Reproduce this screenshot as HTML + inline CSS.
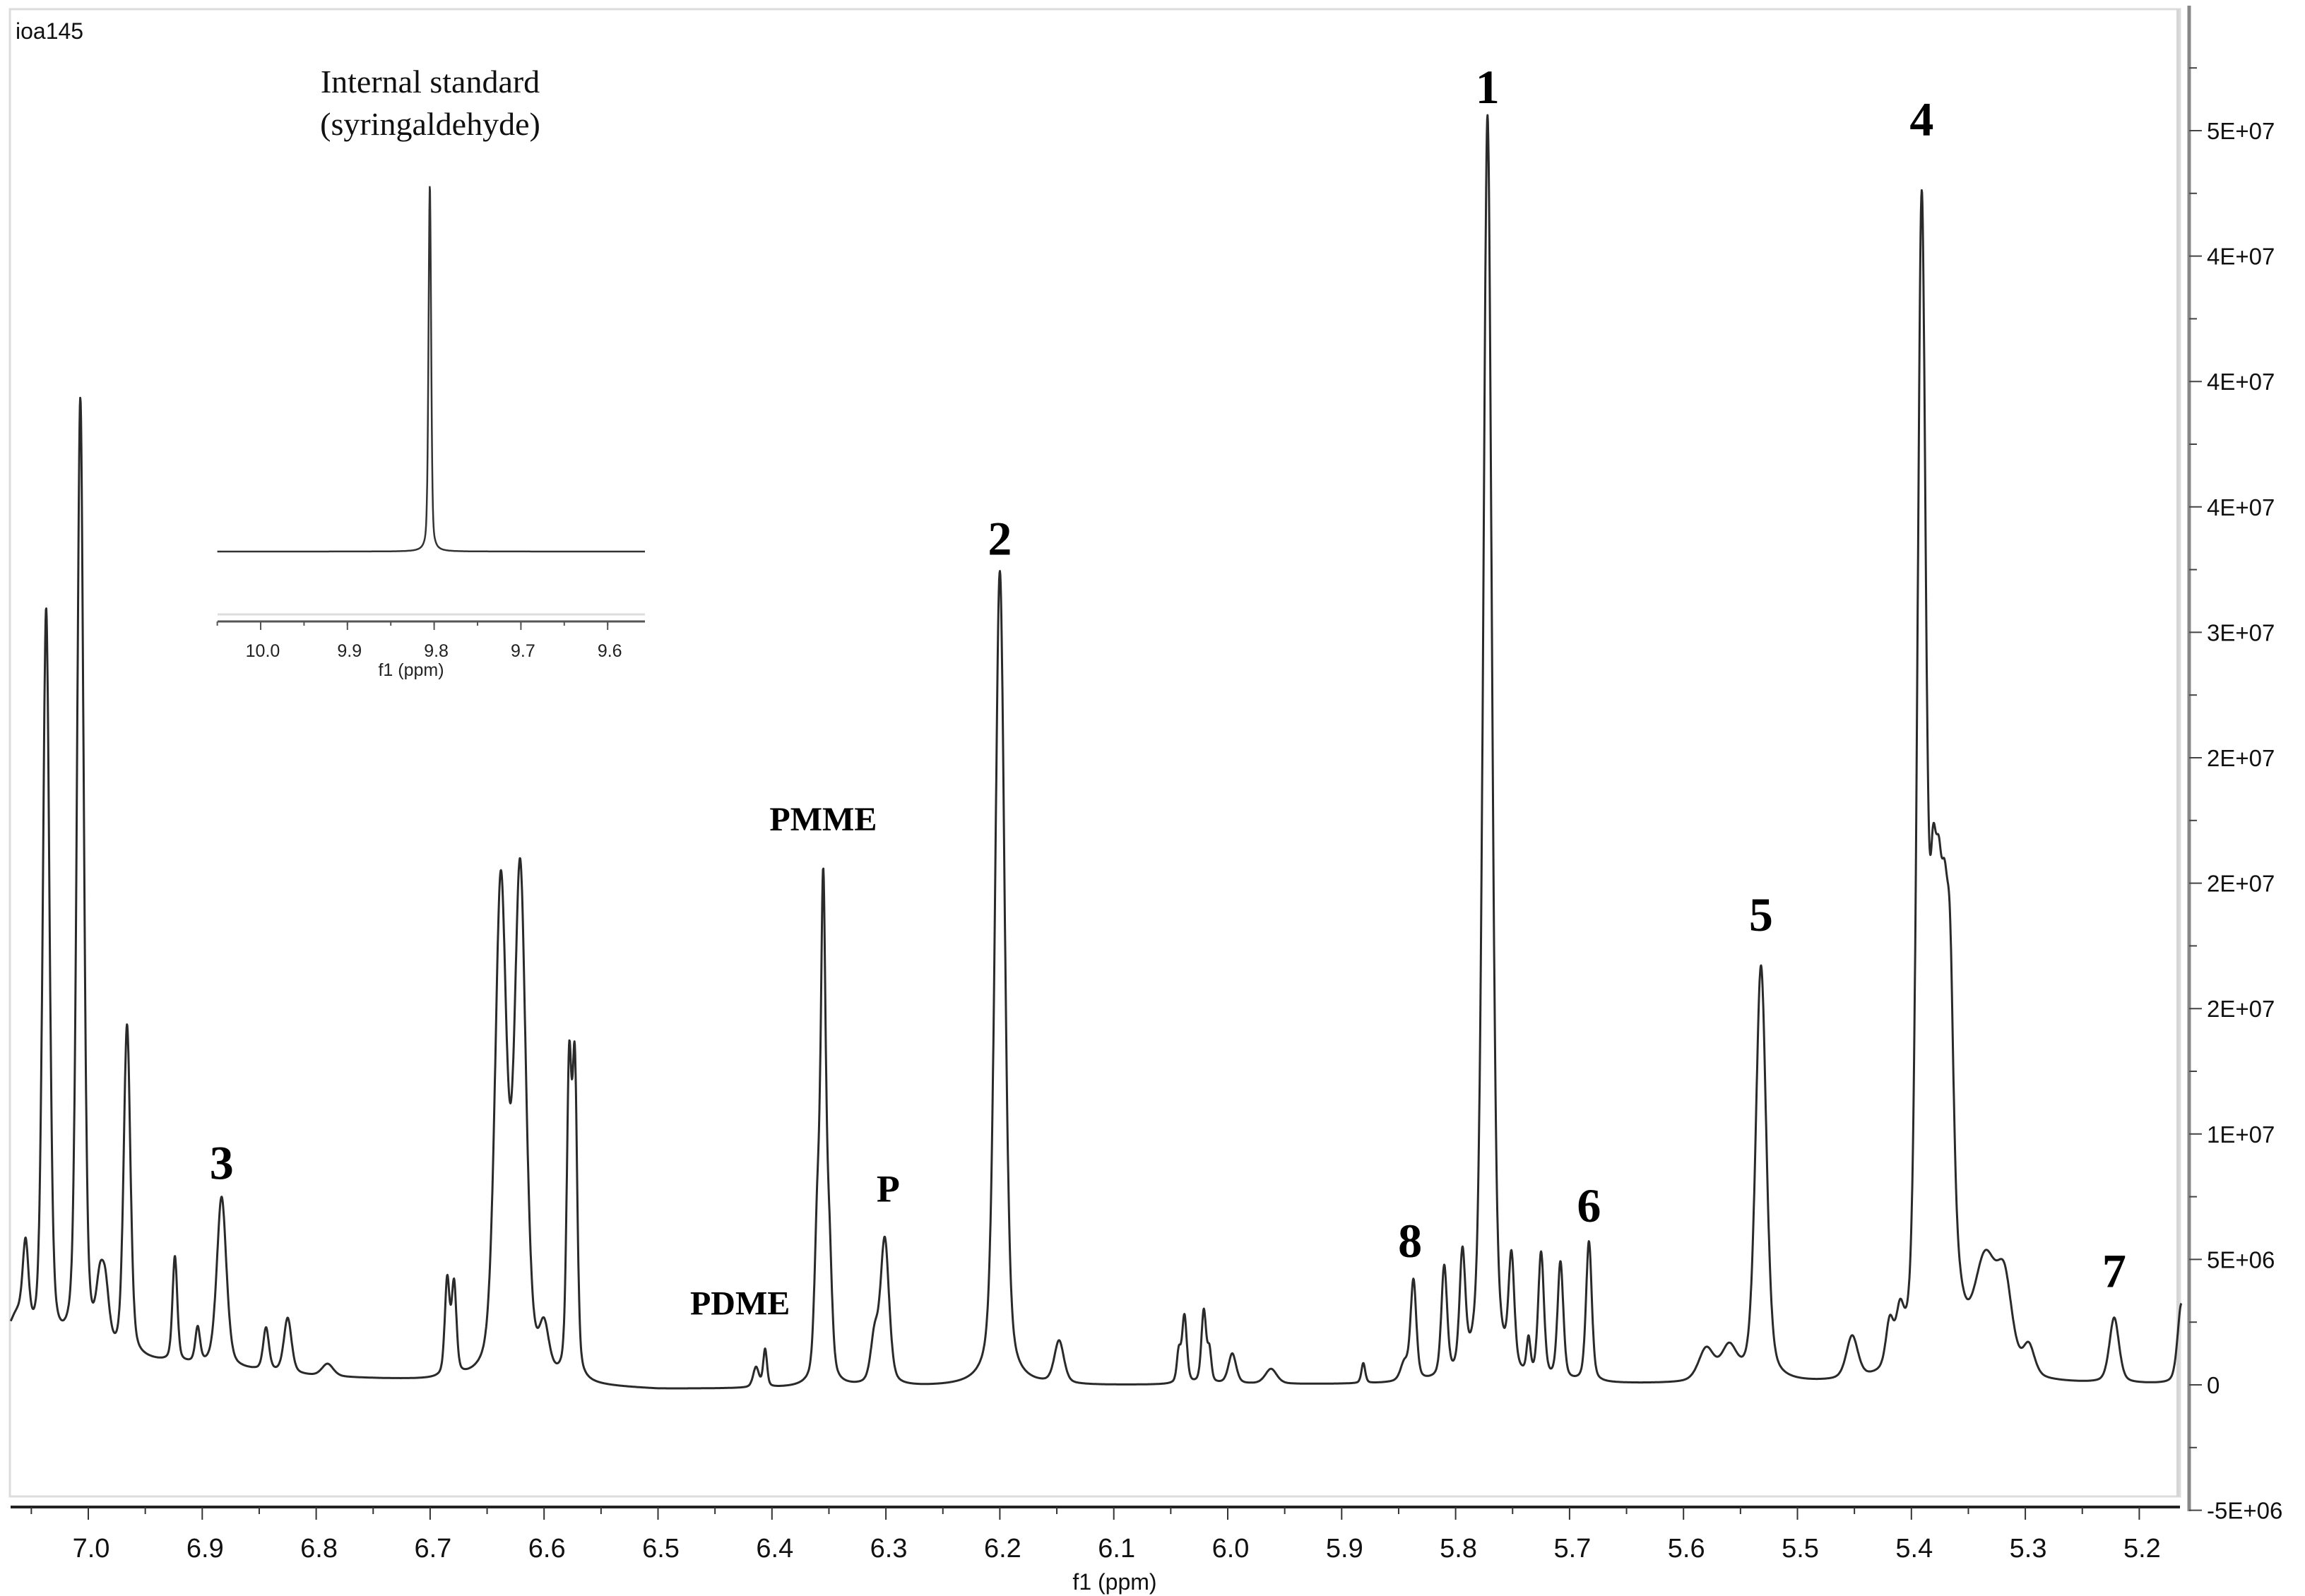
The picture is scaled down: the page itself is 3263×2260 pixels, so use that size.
<!DOCTYPE html>
<html><head><meta charset="utf-8"><style>
html,body{margin:0;padding:0;background:#fff}
svg{display:block}
</style></head><body>
<svg id="chart" width="3263" height="2260" viewBox="0 0 3263 2260" xmlns="http://www.w3.org/2000/svg">
<rect x="0" y="0" width="3263" height="2260" fill="#fff"/>
<rect x="14" y="13" width="3072" height="2106" fill="none" stroke="#dcdcdc" stroke-width="3"/>
<line x1="3083" y1="13" x2="3083" y2="2119" stroke="#d6d6d6" stroke-width="4"/>
<text x="22" y="55" font-family="Liberation Sans, sans-serif" font-size="32" fill="#111">ioa145</text>
<g id="inset"></g>
<g id="mainplot"></g>
<g id="xaxis"></g>
<g id="yaxis"></g>
<g id="labels"></g>
</svg>
<script>
// ---- main spectrum data (ppm, height in units of 1E7, half-width ppm) ----
const peakPpm = [7.062,7.055,7.037,7.007,6.990,6.985,6.966,6.924,6.904,6.883,6.844,6.825,6.790,6.685,6.679,6.638,6.621,6.600,6.578,6.573,6.414,6.406,6.360,6.355,6.350,6.310,6.301,6.200,6.148,6.043,6.038,6.021,6.016,5.996,5.962,5.881,5.845,5.837,5.810,5.794,5.772,5.751,5.736,5.725,5.708,5.683,5.580,5.560,5.532,5.452,5.419,5.410,5.391,5.381,5.376,5.371,5.366,5.372,5.335,5.318,5.297,5.222,5.163];
const peakHeight = [0.14,0.32,2.95,3.80,0.22,0.22,1.32,0.42,0.14,0.68,0.17,0.22,0.05,0.38,0.36,1.95,2.00,0.18,1.20,1.20,0.08,0.15,0.62,1.85,0.52,0.18,0.58,3.25,0.17,0.12,0.27,0.29,0.12,0.12,0.06,0.08,0.07,0.40,0.44,0.46,5.05,0.44,0.14,0.50,0.47,0.56,0.13,0.13,1.66,0.17,0.18,0.18,4.50,1.05,0.80,0.72,0.90,0.75,0.45,0.32,0.12,0.26,0.32];
const peakWidth = [0.010,0.003,0.0035,0.0035,0.004,0.004,0.0035,0.0025,0.0025,0.005,0.003,0.004,0.006,0.0025,0.0025,0.006,0.006,0.005,0.0025,0.0025,0.003,0.002,0.003,0.0025,0.003,0.004,0.0045,0.005,0.005,0.002,0.0025,0.0025,0.002,0.004,0.006,0.002,0.004,0.003,0.003,0.003,0.0045,0.003,0.002,0.003,0.003,0.003,0.008,0.008,0.0055,0.006,0.004,0.004,0.0045,0.0035,0.0035,0.0035,0.0035,0.012,0.012,0.008,0.006,0.005,0.004];
const baselinePpm = [7.07,6.95,6.80,6.50,6.00,5.60,5.16];
const baselineVal = [0.12,0.09,0.03,-0.02,0.0,0.0,0.0];
const yTickValues = [5e7,4.5e7,4e7,3.5e7,3e7,2.5e7,2e7,1.5e7,1e7,5e6,0,-5e6];
const yTickLabels = ["5E+07","4E+07","4E+07","4E+07","3E+07","2E+07","2E+07","2E+07","1E+07","5E+06","0","-5E+06"];
const xTickValues = [7.0,6.9,6.8,6.7,6.6,6.5,6.4,6.3,6.2,6.1,6.0,5.9,5.8,5.7,5.6,5.5,5.4,5.3,5.2];
const xTickLabels = ["7.0","6.9","6.8","6.7","6.6","6.5","6.4","6.3","6.2","6.1","6.0","5.9","5.8","5.7","5.6","5.5","5.4","5.3","5.2"];
const peakLabelText = ["1","2","3","4","5","6","7","8","PMME","PDME","P"];
const peakLabelPpm = [5.772,6.200,6.883,5.391,5.532,5.683,5.222,5.840,6.355,6.428,6.298];
const peakLabelVal = [5.11e7,3.31e7,0.82e7,4.98e7,1.81e7,0.65e7,0.39e7,0.51e7,2.21e7,0.28e7,0.73e7];
// ---- inset data ----
const insetPeakPpm = [9.805];
const insetPeakHeight = [1.0];
const insetTickValues = [10.0,9.9,9.8,9.7,9.6];
const insetTickLabels = ["10.0","9.9","9.8","9.7","9.6"];

const NS="http://www.w3.org/2000/svg";
function mk(tag, attrs, parent){const e=document.createElementNS(NS,tag);for(const k in attrs)e.setAttribute(k,attrs[k]);parent.appendChild(e);return e;}

// axis functions
const xPx = ppm => 125 + (7.0 - ppm) * 1613;
const yPx = v => 1961 - v * (177.6 / 5e6);
const ppmMin = 5.163, ppmMax = 7.068;

function baseline(p){
  for(let i=0;i<baselinePpm.length-1;i++){
    const a=baselinePpm[i], b=baselinePpm[i+1];
    if(p<=a && p>=b){const t=(a-p)/(a-b);return baselineVal[i]+t*(baselineVal[i+1]-baselineVal[i]);}
  }
  return 0;
}
function shape(d){return 0.6*Math.exp(-Math.LN2*d*d)+0.4/(1+d*d);}
function intensity(p){
  let s=baseline(p);
  for(let i=0;i<peakPpm.length;i++){const d=(p-peakPpm[i])/peakWidth[i];s+=peakHeight[i]*shape(d);}
  return s*1e7;
}
const main=document.getElementById('mainplot');
let d="";
const N=6000;
for(let i=0;i<=N;i++){
  const p=ppmMax-(ppmMax-ppmMin)*i/N;
  d+=(i?"L":"M")+xPx(p).toFixed(1)+" "+yPx(intensity(p)).toFixed(1);
}
const line=mk('path',{d:d,fill:'none',stroke:'#2a2a2a','stroke-width':3,'stroke-linejoin':'round'},main);



// x axis
const xa=document.getElementById('xaxis');
mk('line',{x1:15,y1:2134,x2:3086,y2:2134,stroke:'#222','stroke-width':4},xa);
for(let v=7.05; v>=5.16; v-=0.05){
  const x=xPx(v);
  const major=Math.abs(Math.round(v*10)-v*10)<0.01;
  if(!major) mk('line',{x1:x,y1:2134,x2:x,y2:2144,stroke:'#333','stroke-width':2},xa);
}
xTickValues.forEach((v,i)=>{
  const x=xPx(v);
  const tk=mk('line',{x1:x,y1:2134,x2:x,y2:2152,stroke:'#333','stroke-width':2},xa);
  
  
  const t=mk('text',{x:x+4,y:2205,'text-anchor':'middle','font-family':'Liberation Sans Narrow, Liberation Sans, sans-serif','font-size':38,fill:'#111'},xa);
  t.textContent=xTickLabels[i];
  
  
});
const xt=mk('text',{x:1578,y:2251,'text-anchor':'middle','font-family':'Liberation Sans, sans-serif','font-size':32,fill:'#111'},xa);
xt.textContent="f1 (ppm)";



// y axis
const ya=document.getElementById('yaxis');
mk('line',{x1:3099,y1:8,x2:3099,y2:2140,stroke:'#888','stroke-width':5},ya);
yTickValues.forEach((v,i)=>{
  const y=yPx(v);
  mk('line',{x1:3099,y1:y,x2:3117,y2:y,stroke:'#444','stroke-width':2},ya);
  if(v>-5e6){const ym=yPx(v-2.5e6);mk('line',{x1:3099,y1:ym,x2:3110,y2:ym,stroke:'#444','stroke-width':2},ya);}
  const t=mk('text',{x:3124,y:y+12,'font-family':'Liberation Sans, sans-serif','font-size':33,fill:'#111'},ya);
  t.textContent=yTickLabels[i];
  
  
});
mk('line',{x1:3099,y1:yPx(5.25e7),x2:3110,y2:yPx(5.25e7),stroke:'#444','stroke-width':2},ya);

// peak labels
const lg=document.getElementById('labels');
peakLabelText.forEach((s,i)=>{
  const isNum=/^[0-9]$/.test(s);
  const t=mk('text',{x:xPx(peakLabelPpm[i]),y:yPx(peakLabelVal[i]),'text-anchor':'middle','font-family':'Liberation Serif, serif','font-weight':'bold','font-size':isNum?68:(s==='P'?54:48),fill:'#000'},lg);
  t.textContent=s;
  
  
});

// inset
const ins=document.getElementById('inset');
const ixPx = ppm => 369 + (10.0 - ppm) * 1228;
const iyPx = v => 781 - v * 520;
let di="";
for(let i=0;i<=1200;i++){
  const p=10.05-(10.05-9.557)*i/1200;
  let s=0;
  insetPeakPpm.forEach((c,k)=>{const dd=(p-c)/0.0018;s+=insetPeakHeight[k]*shape(dd);});
  di+=(i?"L":"M")+ixPx(p).toFixed(1)+" "+iyPx(s).toFixed(1);
}
const il=mk('path',{d:di,fill:'none',stroke:'#333','stroke-width':2.5},ins);


mk('line',{x1:308,y1:870,x2:913,y2:870,stroke:'#ddd','stroke-width':3},ins);
mk('line',{x1:308,y1:880,x2:913,y2:880,stroke:'#555','stroke-width':3},ins);
for(let v=10.05; v>=9.56; v-=0.05){
  mk('line',{x1:ixPx(v),y1:880,x2:ixPx(v),y2:886,stroke:'#555','stroke-width':2},ins);
}
insetTickValues.forEach((v,i)=>{
  mk('line',{x1:ixPx(v),y1:880,x2:ixPx(v),y2:892,stroke:'#555','stroke-width':2},ins);
  const t=mk('text',{x:ixPx(v)+3,y:930,'text-anchor':'middle','font-family':'Liberation Sans, sans-serif','font-size':25,fill:'#222'},ins);
  t.textContent=insetTickLabels[i];
  
  
});
const ixt=mk('text',{x:582,y:957,'text-anchor':'middle','font-family':'Liberation Sans, sans-serif','font-size':25,fill:'#222'},ins);
ixt.textContent="f1 (ppm)";


const t1=mk('text',{x:609,y:131,'text-anchor':'middle','font-family':'Liberation Serif, serif','font-size':46,fill:'#111'},ins);
t1.textContent="Internal standard";


const t2=mk('text',{x:609,y:191,'text-anchor':'middle','font-family':'Liberation Serif, serif','font-size':46,fill:'#111'},ins);
t2.textContent="(syringaldehyde)";


</script>
</body></html>
